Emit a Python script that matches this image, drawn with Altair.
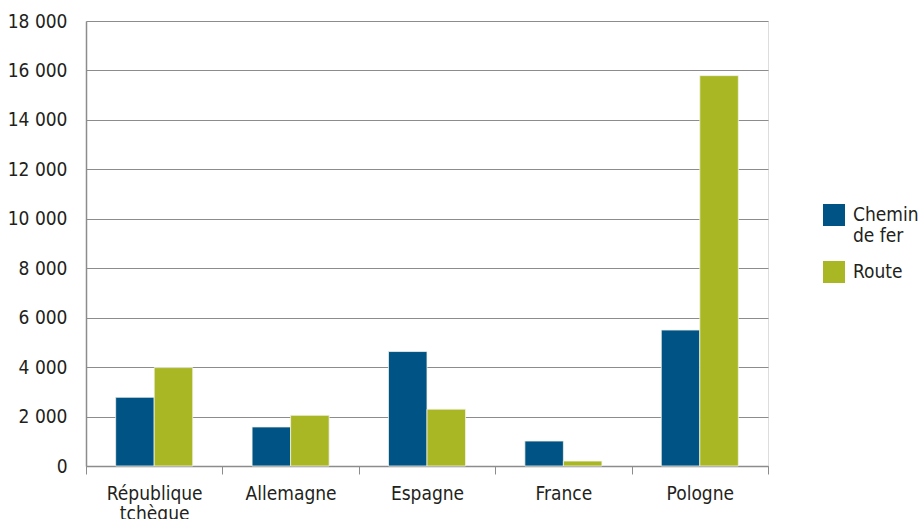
import altair as alt
import pandas as pd

countries = ["République tchèque", "Allemagne", "Espagne", "France", "Pologne"]
modes = ["Chemin de fer", "Route"]
rail = [2780, 1580, 4630, 1010, 5500]
road = [3980, 2050, 2300, 200, 15790]
y_ticks = [0, 2000, 4000, 6000, 8000, 10000, 12000, 14000, 16000, 18000]
colors = ["#005385", "#A9B724"]

rows = []
for c, r, g in zip(countries, rail, road):
    rows.append({"pays": c, "mode": modes[0], "valeur": r})
    rows.append({"pays": c, "mode": modes[1], "valeur": g})
df = pd.DataFrame(rows)

FONT = "DejaVu Sans Condensed, Liberation Sans Narrow, sans-serif"
TXT = "#231F20"
FS = 19

chart = alt.Chart(df).mark_bar(stroke="#f2f2e8", strokeWidth=0.8).encode(
    x=alt.X("pays:N", sort=countries, title=None,
            scale=alt.Scale(paddingInner=0, paddingOuter=0),
            axis=alt.Axis(labelAngle=0, tickBand="extent", ticks=True, tickSize=8,
                          tickColor="#8c8c8c", domainColor="#8c8c8c", domainWidth=1.5,
                          labelFont=FONT, labelFontSize=FS, labelColor=TXT,
                          labelPadding=10, labelLimit=300, labelLineHeight=20,
                          labelExpr="split(datum.label, ' ')")),
    xOffset=alt.XOffset("mode:N", sort=modes,
                        scale=alt.Scale(paddingInner=0, paddingOuter=0.77)),
    y=alt.Y("valeur:Q", title=None,
            scale=alt.Scale(domain=[0, 18000], nice=False),
            axis=alt.Axis(values=y_ticks, ticks=False, grid=True,
                          gridColor="#8c8c8c", gridWidth=1.2,
                          domain=True, domainColor="#8c8c8c", domainWidth=1.5,
                          labelFont=FONT, labelFontSize=FS, labelColor=TXT,
                          labelPadding=19,
                          labelExpr="replace(format(datum.value, ','), ',', ' ')")),
    color=alt.Color("mode:N", sort=modes,
                    scale=alt.Scale(domain=modes, range=colors),
                    legend=alt.Legend(title=None, orient="none", legendX=737, legendY=183,
                                      symbolType="square", symbolSize=484,
                                      symbolStrokeWidth=0, symbolOpacity=1,
                                      labelFont=FONT, labelFontSize=FS, labelColor=TXT,
                                      labelOffset=8, rowPadding=15, padding=0,
                                      labelExpr="datum.label == 'Chemin de fer' ? ['Chemin', 'de fer'] : datum.label")),
).properties(
    width=682, height=445,
    autosize=alt.AutoSizeParams(type="none"),
    padding={"left": 86, "top": 21, "right": 150, "bottom": 53},
).configure_view(stroke=None).configure(background="white")

chart.save("out.html", embed_options={"renderer": "svg", "actions": False})
